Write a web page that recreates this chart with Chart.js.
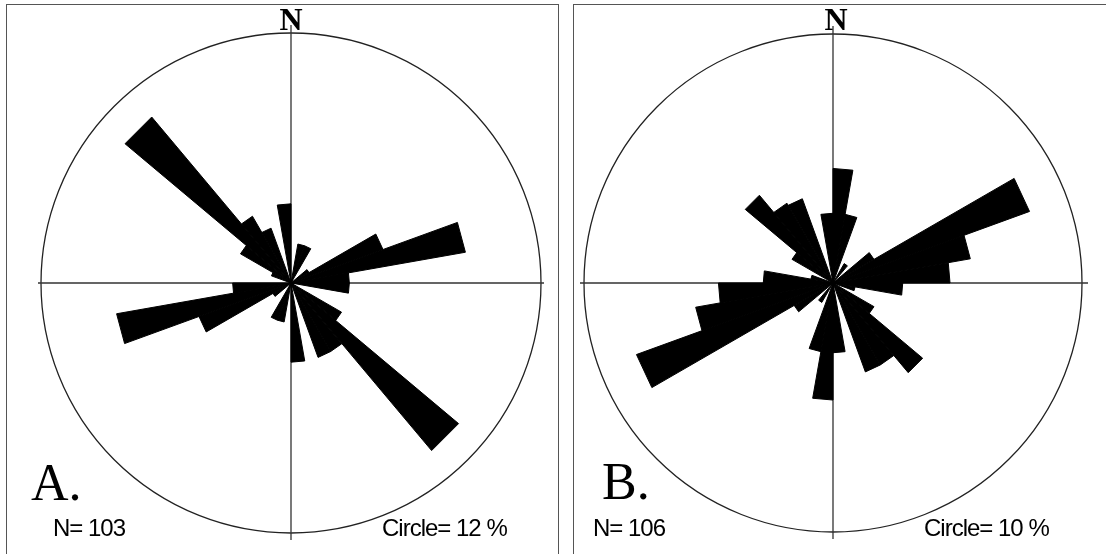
<!DOCTYPE html>
<html>
<head>
<meta charset="utf-8">
<script src="https://cdn.jsdelivr.net/npm/chart.js@4.4.1/dist/chart.umd.min.js"></script>
<style>
  body { margin: 0; background: #fff; }
  #page { position: relative; width: 1106px; height: 554px; overflow: hidden; background: #fff; }
  .panel { position: absolute; top: 4px; height: 600px; border: 1.5px solid #555; border-bottom: none; }
  .wrap { position: absolute; }
  .txt { position: absolute; z-index: 2; line-height: 1; white-space: nowrap; color: #000; }
  .north { font: bold 32px "Liberation Serif", "Times New Roman", serif; transform: translateX(-50%); }
  .letter { font: 52px "Liberation Serif", "Times New Roman", serif; }
  .note { font: 24px "Liberation Sans", Arial, sans-serif; letter-spacing: -1px; }
</style>
</head>
<body>
<div id="page">
  <div class="panel" style="left:6px; width:551px;"></div>
  <div class="panel" style="left:573px; width:600px;"></div>

  <div class="wrap" style="left:29px; top:21px; width:524px; height:524px;"><canvas id="roseA" width="524" height="524"></canvas></div>
  <div class="wrap" style="left:572px; top:22px; width:522px; height:522px;"><canvas id="roseB" width="522" height="522"></canvas></div>

  <div class="txt north" style="left:291px; top:1px;">N</div>
  <div class="txt north" style="left:836px; top:1px;">N</div>
  <div class="txt letter" style="left:31px; top:453px;">A.</div>
  <div class="txt letter" style="left:602px; top:452px;">B.</div>
  <div class="txt note" style="left:53px; top:514px;">N= 103</div>
  <div class="txt note" style="left:382px; top:514px;">Circle= 12 %</div>
  <div class="txt note" style="left:593px; top:514px;">N= 106</div>
  <div class="txt note" style="left:924px; top:514px;">Circle= 10 %</div>
</div>

<script>
// 10 degree bins, clockwise from north
const bins = ['0-10','10-20','20-30','30-40','40-50','50-60','60-70','70-80','80-90',
  '90-100','100-110','110-120','120-130','130-140','140-150','150-160','160-170','170-180',
  '180-190','190-200','200-210','210-220','220-230','230-240','240-250','250-260','260-270',
  '270-280','280-290','290-300','300-310','310-320','320-330','330-340','340-350','350-360'];

// percent per bin
const roseA = [0, 1.9, 1.9, 0, 0, 1.0, 4.7, 8.5, 2.8, 2.8, 0, 0, 2.8, 10.5, 3.8, 3.8, 0, 3.8,
               0, 1.9, 1.9, 0, 0, 1.0, 4.7, 8.5, 2.8, 0, 0, 1.0, 2.8, 10.4, 3.7, 2.8, 0, 3.8];
const roseB = [4.6, 2.8, 0, 0.9, 0, 1.9, 8.4, 5.6, 4.7, 2.8, 0.9, 0, 1.9, 4.7, 3.8, 3.8, 0, 2.8,
               4.7, 2.8, 0, 0.9, 0, 1.8, 8.4, 5.6, 4.6, 2.8, 0.9, 0, 1.9, 4.6, 3.7, 3.6, 0, 2.8];

const circleA = 12;   // outer circle, %
const circleB = 10;

// N-S / E-W lines, a bit longer than the circle
const crossHair = {
  id: 'crossHair',
  beforeDatasetsDraw(chart, args, opts) {
    const r = chart.scales.r;
    const ctx = chart.ctx;
    ctx.save();
    ctx.strokeStyle = '#333';
    ctx.lineWidth = 1.3;
    ctx.beginPath();
    ctx.moveTo(r.xCenter, r.yCenter - r.drawingArea - opts.top);
    ctx.lineTo(r.xCenter, r.yCenter + r.drawingArea + opts.bottom);
    ctx.moveTo(r.xCenter - r.drawingArea - opts.left, r.yCenter);
    ctx.lineTo(r.xCenter + r.drawingArea + opts.right, r.yCenter);
    ctx.stroke();
    ctx.restore();
  }
};

function makeRose(id, values, max, ext) {
  return new Chart(document.getElementById(id), {
    type: 'polarArea',
    data: {
      labels: bins,
      datasets: [{
        data: values,
        backgroundColor: '#000',
        borderColor: '#000',
        borderWidth: 1,
        circular: false
      }]
    },
    options: {
      responsive: false,
      animation: false,
      events: [],
      layout: { padding: 12 },
      plugins: {
        legend: { display: false },
        tooltip: { enabled: false },
        crossHair: ext
      },
      scales: {
        r: {
          min: 0,
          max: max,
          startAngle: 0,
          ticks: { display: false, stepSize: max },
          grid: { color: '#222', lineWidth: 1.3 },
          angleLines: { display: false },
          pointLabels: { display: false }
        }
      }
    },
    plugins: [crossHair]
  });
}

makeRose('roseA', roseA, circleA, { top: 8, bottom: 7, left: 3, right: 3 });
makeRose('roseB', roseB, circleB, { top: 8, bottom: 7, left: 4, right: 6 });
</script>
</body>
</html>
